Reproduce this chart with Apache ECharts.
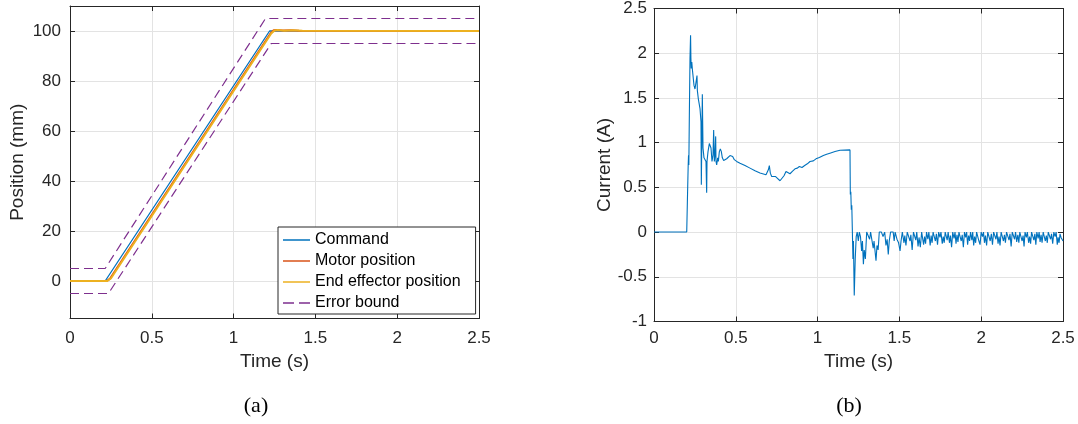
<!DOCTYPE html>
<html>
<head>
<meta charset="UTF-8">
<script type="text/javascript" src="https://cdn.jsdelivr.net/npm/echarts@6/dist/echarts.min.js"></script>
<style>
 body{margin:0;background:#fff;}
 #chartmain{width:1078px;height:424px;}
</style>
</head>
<body>
<div id="chartmain"></div>
<script type="text/javascript">
// ---- (a) position ----
var cmdT = [0, 0.215, 1.22, 2.5];
var cmdP = [0, 0, 100, 100];
var motT = [0, 0.225, 0.235, 0.245, 0.255, 1.225, 1.235, 1.245, 1.26, 1.3, 1.35, 1.4, 2.5];
var motP = [0, 0, 0.3, 1, 2, 99, 99.8, 100.3, 100.4, 100.2, 100.3, 100.1, 100];
var effT = [0, 0.228, 0.24, 0.25, 0.26, 1.23, 1.24, 1.25, 1.27, 1.31, 1.36, 1.42, 2.5];
var effP = [0, 0, 0.3, 1, 2, 99, 99.8, 100.2, 100.4, 100.1, 100.3, 100.1, 100];
var upT = [0, 0.215, 1.195, 2.5];
var upP = [5, 5, 105, 105];
var loT = [0, 0.235, 1.23, 2.5];
var loP = [-5, -5, 95, 95];
var legendNames = ['Command', 'Motor position', 'End effector position', 'Error bound'];

// ---- (b) current, [time, amps] ----
var curRamp = [
 [0,0],[0.2,0],[0.204,0.34],[0.209,0.75],[0.211,0.86],[0.213,0.75],[0.216,1.3],[0.22,1.94],
 [0.2235,2.2],[0.2255,1.95],[0.2275,1.83],[0.231,1.9],[0.2345,1.82],[0.2445,1.64],[0.2506,1.6],
 [0.2567,1.585],[0.2608,1.6],[0.2628,1.75],[0.2649,1.585],[0.271,1.49],[0.2812,1.38],[0.2873,1.23],
 [0.2893,0.53],[0.2954,1.54],[0.2995,0.94],[0.3056,0.83],[0.3138,0.84],[0.3178,0.79],[0.3219,0.44],
 [0.324,0.79],[0.3301,0.9],[0.3382,0.99],[0.3444,1.01],[0.3484,0.94],[0.3545,0.79],[0.3606,0.86],
 [0.3647,1.14],[0.3688,0.79],[0.3729,0.86],[0.377,1.07],[0.379,0.79],[0.3831,0.75],[0.3892,0.83],
 [0.3933,0.79],[0.3994,0.9],[0.4055,0.93],[0.4116,0.9],[0.4177,0.83],[0.4258,0.8],[0.436,0.79],
 [0.4442,0.82],[0.4544,0.81],[0.4645,0.856],[0.4747,0.86],[0.4808,0.845],[0.491,0.81],[0.5053,0.79],
 [0.5257,0.77],[0.5562,0.744],[0.5868,0.715],[0.6174,0.685],[0.6479,0.66],[0.6846,0.641],[0.6989,0.696],
 [0.705,0.744],[0.7111,0.659],[0.7193,0.622],[0.7294,0.604],[0.7417,0.622],[0.7539,0.604],[0.7702,0.574],
 [0.7804,0.585],[0.7946,0.63],[0.8068,0.678],[0.819,0.67],[0.8313,0.652],[0.8456,0.678],[0.8619,0.707],
 [0.8761,0.715],[0.8884,0.733],[0.9047,0.722],[0.921,0.744],[0.9373,0.763],[0.9536,0.789],[0.9739,0.796],
 [0.9902,0.819],[1.0106,0.833],[1.0351,0.856],[1.0555,0.87],[1.0799,0.885],[1.1064,0.9],[1.1369,0.915],
 [1.198,0.919]
];
var curDrop = [
 [1.2,0.42],[1.203,0.45],[1.206,0.25],[1.209,0.3],[1.212,0.05],[1.216,-0.3],[1.219,-0.1],[1.224,-0.71],
 [1.23,-0.3],[1.236,-0.05],[1.242,0],[1.249,-0.1],[1.255,0],[1.262,-0.05],[1.269,-0.21],[1.274,-0.1],
 [1.28,-0.36],[1.285,-0.2],[1.292,-0.3],[1.3,0],[1.312,0],[1.318,-0.08],[1.324,0],[1.34,-0.18],
 [1.345,-0.1],[1.357,-0.32],[1.363,-0.15],[1.37,-0.2],[1.377,0],[1.39,0],[1.4,-0.05],[1.41,0],
 [1.418,-0.15],[1.425,-0.08],[1.432,-0.25],[1.438,-0.1],[1.446,0],[1.455,-0.02],[1.462,0],[1.468,-0.1],
 [1.474,0],[1.485,-0.08],[1.495,-0.12],[1.504,-0.21],[1.51,-0.1]
];
var curNoise = [
 [1.518,0],[1.528,-0.12],[1.533,-0.04],[1.54,-0.15],[1.548,0],[1.556,0],[1.565,-0.1],[1.57,-0.03],
 [1.578,-0.2],[1.586,0],[1.594,0],[1.6,-0.09],[1.606,0],[1.614,-0.16],[1.62,-0.06],[1.628,-0.17],
 [1.636,0],[1.642,0],[1.648,-0.14],[1.654,-0.05],[1.66,-0.13],[1.666,0],[1.674,-0.08],[1.68,0],
 [1.688,-0.15],[1.694,-0.04],[1.7,-0.12],[1.706,0],[1.714,0],[1.72,-0.1],[1.726,-0.02],[1.733,-0.14],
 [1.74,0],[1.748,-0.06],[1.754,0],[1.762,-0.13],[1.768,-0.05],[1.774,-0.12],[1.78,0],[1.786,0],
 [1.792,-0.09],[1.798,0],[1.806,-0.12],[1.812,-0.04],[1.819,-0.17],[1.826,0],[1.834,-0.07],[1.84,0],
 [1.846,-0.13],[1.852,-0.03],[1.858,-0.11],[1.864,0],[1.872,0],[1.878,-0.1],[1.884,-0.03],[1.891,-0.17],
 [1.898,0],[1.905,-0.06],[1.911,0],[1.917,-0.14],[1.923,-0.04],[1.929,-0.1],[1.935,0],[1.943,-0.09],
 [1.948,0],[1.954,-0.15],[1.96,-0.05],[1.966,-0.12],[1.972,0],[1.98,0],[1.986,-0.1],[1.993,-0.14],
 [2.0,0],[2.008,-0.05],[2.014,0],[2.02,-0.12],[2.026,-0.04],[2.033,-0.15],[2.04,0],[2.048,0],
 [2.055,-0.1],[2.062,-0.02],[2.069,-0.14],[2.076,0],[2.084,0],[2.09,-0.08],[2.096,0],[2.103,-0.13],
 [2.109,-0.05],[2.115,-0.15],[2.122,0],[2.13,0],[2.136,-0.1],[2.142,-0.03],[2.148,-0.12],[2.155,0],
 [2.163,0],[2.17,-0.09],[2.176,-0.02],[2.183,-0.16],[2.19,0],[2.198,0],[2.204,-0.08],[2.21,0],
 [2.217,-0.11],[2.224,-0.03],[2.23,-0.12],[2.236,0],[2.244,0],[2.25,-0.1],[2.256,-0.04],[2.262,-0.16],
 [2.268,0],[2.276,-0.06],[2.282,0],[2.29,-0.12],[2.296,-0.05],[2.302,-0.13],[2.308,0],[2.316,0],
 [2.322,-0.09],[2.328,-0.02],[2.334,-0.14],[2.34,0],[2.348,-0.07],[2.354,0],[2.36,-0.11],[2.366,-0.03],
 [2.372,-0.12],[2.379,0],[2.386,0],[2.392,-0.1],[2.398,-0.04],[2.404,-0.12],[2.41,0],[2.418,0],
 [2.424,-0.08],[2.43,-0.02],[2.437,-0.13],[2.444,0],[2.452,-0.05],[2.458,0],[2.465,-0.14],[2.47,-0.06],
 [2.476,-0.12],[2.482,-0.02],[2.488,-0.06],[2.494,-0.04],[2.5,-0.1]
];

function zip(a, b){
	var out = [];
	for(var i = 0; i < a.length; i++){ out.push([a[i], b[i]]); }
	return out;
}

var FONT = 'Liberation Sans, Arial, sans-serif';
var INK = '#262626';
var GRIDC = '#e3e3e3';
var SOLID_ICON = 'path://M0,0h27v1.5h-27z';
var DASH_ICON = 'path://M0,0h11v1.5h-11zM16,0h11v1.5h-11z';

function xAx(gi, nameGap, lblMargin){
	return {
		type:'value', gridIndex:gi, min:0, max:2.5, interval:0.5,
		name:'Time (s)', nameLocation:'middle', nameGap:nameGap,
		nameTextStyle:{fontFamily:FONT, fontSize:19, color:INK},
		axisLine:{show:true, onZero:false, lineStyle:{color:INK, width:1}},
		axisTick:{show:true, inside:true, length:5, lineStyle:{color:INK}},
		axisLabel:{fontFamily:FONT, fontSize:17, color:INK, margin:lblMargin},
		splitLine:{show:true, lineStyle:{color:GRIDC, width:1}}
	};
}
function xTop(gi){
	return {
		type:'value', gridIndex:gi, position:'top', min:0, max:2.5, interval:0.5,
		axisLine:{show:true, onZero:false, lineStyle:{color:INK, width:1}},
		axisTick:{show:true, inside:true, length:5, lineStyle:{color:INK}},
		axisLabel:{show:false}, splitLine:{show:false}
	};
}

var option = {
	animation:false,
	grid:[
		{left:70, top:6, width:409, height:312.5},
		{left:654, top:6.5, width:409, height:315}
	],
	xAxis:[xAx(0, 34, 11), xTop(0), xAx(1, 31, 8), xTop(1)],
	yAxis:[
		{
			type:'value', gridIndex:0, min:-15, max:110, splitNumber:6,
			name:'Position (mm)', nameLocation:'middle', nameGap:43,
			nameTextStyle:{fontFamily:FONT, fontSize:19, color:INK},
			axisLine:{show:true, onZero:false, lineStyle:{color:INK}},
			axisTick:{show:true, inside:true, length:5, lineStyle:{color:INK}},
			axisLabel:{fontFamily:FONT, fontSize:17, color:INK, margin:9, showMinLabel:false, showMaxLabel:false},
			splitLine:{show:true, lineStyle:{color:GRIDC}}
		},
		{
			type:'value', gridIndex:0, position:'right', min:-15, max:110, splitNumber:6,
			axisLine:{show:true, onZero:false, lineStyle:{color:INK}},
			axisTick:{show:true, inside:true, length:5, lineStyle:{color:INK}},
			axisLabel:{show:false}, splitLine:{show:false}
		},
		{
			type:'value', gridIndex:1, min:-1, max:2.5, interval:0.5,
			name:'Current (A)', nameLocation:'middle', nameGap:40,
			nameTextStyle:{fontFamily:FONT, fontSize:19, color:INK},
			axisLine:{show:true, onZero:false, lineStyle:{color:INK}},
			axisTick:{show:true, inside:true, length:5, lineStyle:{color:INK}},
			axisLabel:{fontFamily:FONT, fontSize:17, color:INK, margin:7},
			splitLine:{show:true, lineStyle:{color:GRIDC}}
		},
		{
			type:'value', gridIndex:1, position:'right', min:-1, max:2.5, interval:0.5,
			axisLine:{show:true, onZero:false, lineStyle:{color:INK}},
			axisTick:{show:true, inside:true, length:5, lineStyle:{color:INK}},
			axisLabel:{show:false}, splitLine:{show:false}
		}
	],
	legend:{
		data:[
			{name:legendNames[0], icon:SOLID_ICON},
			{name:legendNames[1], icon:SOLID_ICON},
			{name:legendNames[2], icon:SOLID_ICON},
			{name:legendNames[3], icon:DASH_ICON}
		],
		orient:'vertical', left:278, top:227,
		padding:[5,15,3,5], itemGap:5, itemWidth:27, itemHeight:14,
		backgroundColor:'#fff', borderColor:INK, borderWidth:1, borderRadius:0,
		textStyle:{fontFamily:FONT, fontSize:16, color:'#000'},
		selectedMode:false
	},
	graphic:[
		{type:'text', x:256, y:406, style:{text:'(a)', fontFamily:'Liberation Serif, serif', fontSize:22, fill:'#000', align:'center', verticalAlign:'middle'}},
		{type:'text', x:849, y:406, style:{text:'(b)', fontFamily:'Liberation Serif, serif', fontSize:22, fill:'#000', align:'center', verticalAlign:'middle'}}
	],
	series:[
		{name:'Command', type:'line', xAxisIndex:0, yAxisIndex:0, symbol:'none', data:zip(cmdT, cmdP),
			lineStyle:{color:'#0072BD', width:1.3}, itemStyle:{color:'#0072BD'}, z:3},
		{name:'Motor position', type:'line', xAxisIndex:0, yAxisIndex:0, symbol:'none', data:zip(motT, motP),
			lineStyle:{color:'#D95319', width:2}, itemStyle:{color:'#D95319'}, z:4},
		{name:'End effector position', type:'line', xAxisIndex:0, yAxisIndex:0, symbol:'none', data:zip(effT, effP),
			lineStyle:{color:'#EDB120', width:2}, itemStyle:{color:'#EDB120'}, z:5},
		{name:'Error bound', type:'line', xAxisIndex:0, yAxisIndex:0, symbol:'none', data:zip(upT, upP),
			lineStyle:{color:'#7E2F8E', width:1.2, type:[9,5]}, itemStyle:{color:'#7E2F8E'}, z:2},
		{name:'Error bound', type:'line', xAxisIndex:0, yAxisIndex:0, symbol:'none', data:zip(loT, loP),
			lineStyle:{color:'#7E2F8E', width:1.2, type:[9,5]}, itemStyle:{color:'#7E2F8E'}, z:2},
		{name:'Current', type:'line', xAxisIndex:2, yAxisIndex:2, symbol:'none',
			data:curRamp.concat(curDrop, curNoise),
			lineStyle:{color:'#0072BD', width:1.1}, itemStyle:{color:'#0072BD'}}
	]
};

var myChart = echarts.init(document.getElementById('chartmain'));
myChart.setOption(option);
</script>
</body>
</html>
